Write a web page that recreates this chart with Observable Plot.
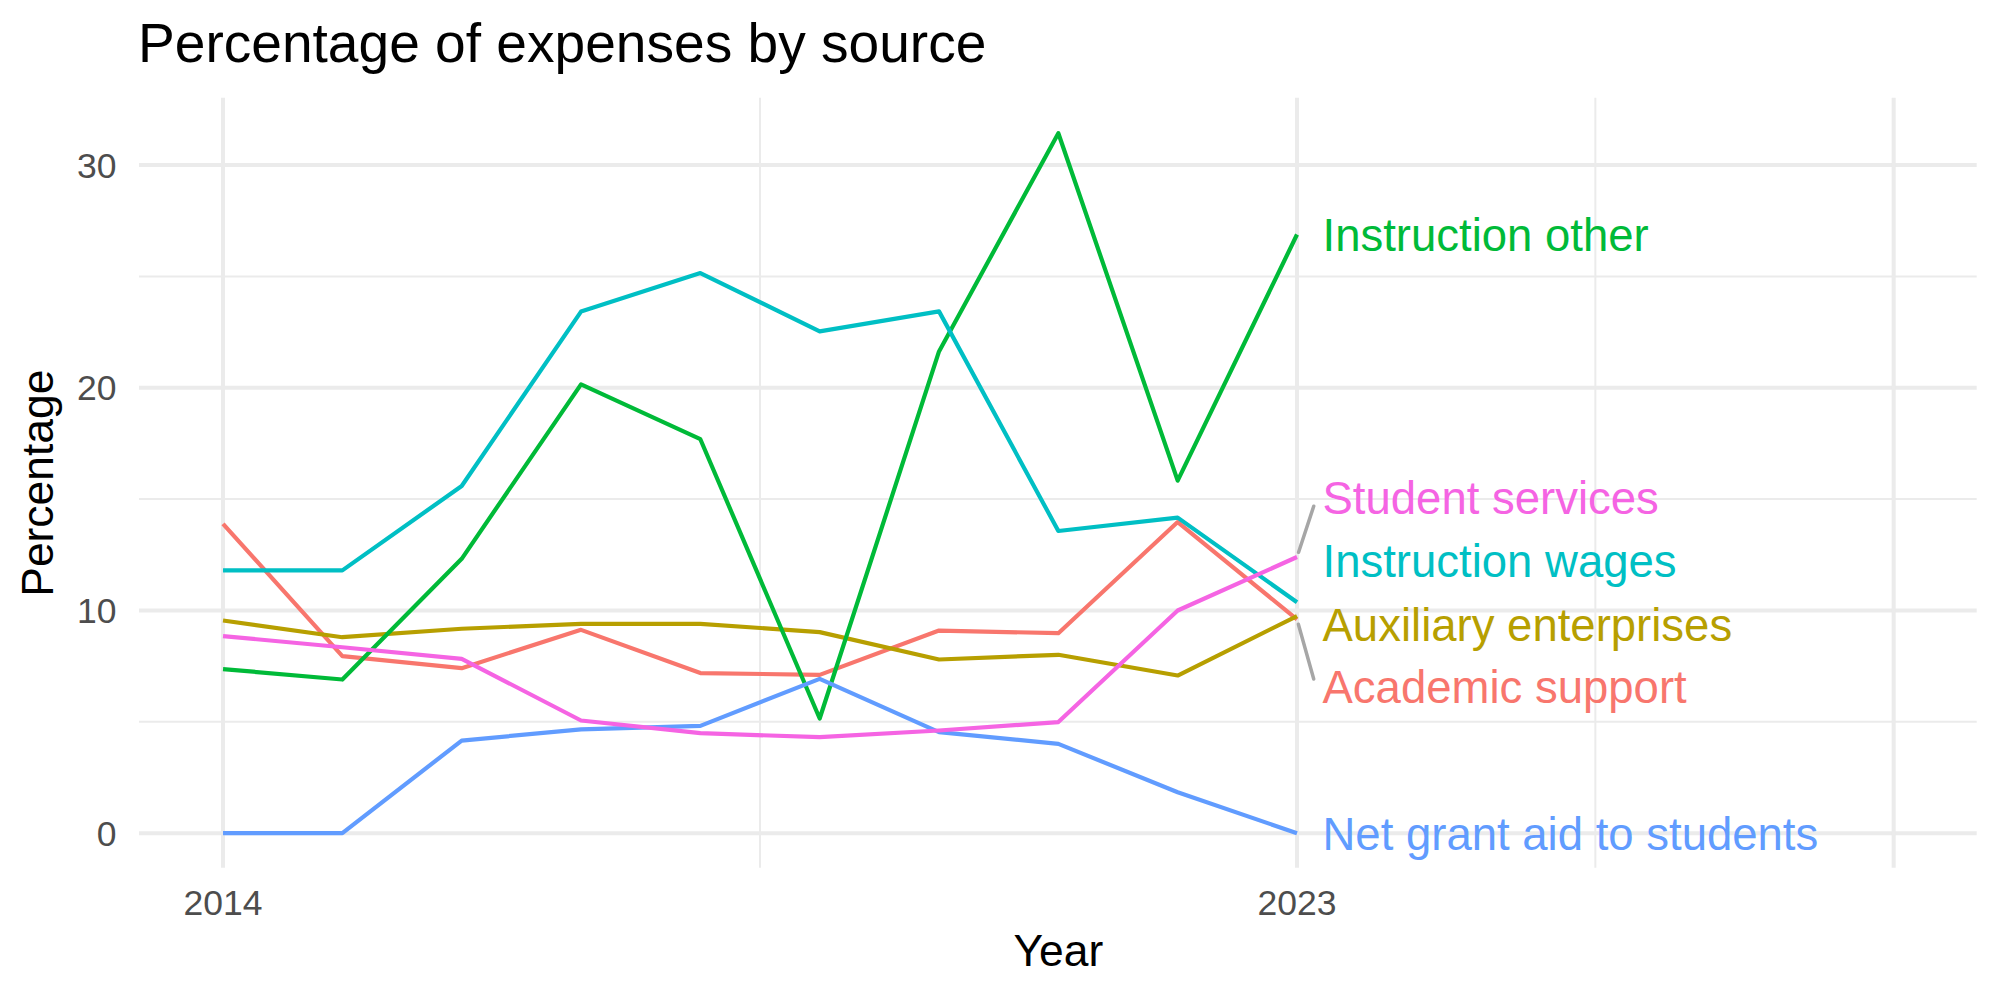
<!DOCTYPE html>
<html>
<head>
<meta charset="utf-8">
<script src="https://cdn.jsdelivr.net/npm/d3@7"></script>
<script src="https://cdn.jsdelivr.net/npm/@observablehq/plot@0.6"></script>
<style>
  body { margin: 0; background: #fff; }
  #chart { width: 2000px; }
  .title { position: relative; height: 80px; }
  .title span {
    position: absolute; left: 138px; top: 16.3px;
    font: 55.1px/1 "Liberation Sans", Arial, Helvetica, sans-serif;
    color: #000; white-space: nowrap;
  }
</style>
</head>
<body>
<div id="chart">
  <div class="title"><span>Percentage of expenses by source</span></div>
</div>
<script>
// Share of expenses by source, 2014–2023 (percent)
const years = [2014, 2015, 2016, 2017, 2018, 2019, 2020, 2021, 2022, 2023];
const academicSupport  = [13.89, 7.95, 7.41, 9.13, 7.19, 7.11, 9.10, 8.98, 13.97, 9.60];
const auxiliary        = [9.55, 8.80, 9.18, 9.40, 9.40, 9.03, 7.80, 8.01, 7.08, 9.75];
const instructionOther = [7.37, 6.90, 12.32, 20.15, 17.69, 5.15, 21.63, 31.43, 15.83, 26.88];
const instructionWages = [11.80, 11.80, 15.59, 23.42, 25.15, 22.53, 23.43, 13.57, 14.17, 10.37];
const netGrantAid      = [0, 0, 4.16, 4.66, 4.82, 6.93, 4.54, 4.01, 1.84, 0];
const studentServices  = [8.85, 8.35, 7.83, 5.06, 4.49, 4.31, 4.61, 4.99, 10.00, 12.40];

const seriesNames  = ["Academic support", "Auxiliary enterprises", "Instruction other",
                      "Instruction wages", "Net grant aid to students", "Student services"];
const seriesColors = ["#F8766D", "#B79F00", "#00BA38", "#00BFC4", "#619CFF", "#F564E3"];

// End-of-line labels, spread apart vertically so they do not overlap
const labelY = [6.56, 9.38, 26.89, 12.22, -0.04, 15.04];
const labelConnector = [true, false, false, false, false, true];

// Axis breaks
const xLimits = [2014, 2028];
const xBreaks = [2014, 2023, 2028];
const xLabelled = [2014, 2023];
const xMinorBreaks = [2018.5, 2025.5];
const yBreaks = [0, 10, 20, 30];
const yMinorBreaks = [5, 15, 25];

const seriesValues = [academicSupport, auxiliary, instructionOther, instructionWages, netGrantAid, studentServices];
const rows = seriesNames.flatMap((name, i) =>
  years.map((year, j) => ({name, year, value: seriesValues[i][j]})));
const lastIndex = years.length - 1;
const ends = seriesNames.map((name, i) => ({
  name,
  year: years[lastIndex],
  value: seriesValues[i][lastIndex],
  labelY: labelY[i],
  connector: labelConnector[i]
}));

const expand = (a, b) => [a - 0.05 * (b - a), b + 0.05 * (b - a)];
const yMax = d3.max(rows, d => d.value);
const font = '"Liberation Sans", Arial, Helvetica, sans-serif';
const grid = "#EBEBEB";
const tickGrey = "#4D4D4D";
const connectorReach = 0.14; // years from the last point to the label box edge

const chart = Plot.plot({
  width: 2000,
  height: 920,
  marginTop: 17.7,
  marginRight: 23.3,
  marginBottom: 132.3,
  marginLeft: 139,
  style: {fontFamily: font, background: "#fff", overflow: "visible"},
  x: {domain: expand(...xLimits), axis: null},
  y: {domain: expand(0, yMax), axis: null},
  color: {domain: seriesNames, range: seriesColors},
  marks: [
    Plot.ruleY(yMinorBreaks, {stroke: grid, strokeWidth: 2}),
    Plot.ruleX(xMinorBreaks, {stroke: grid, strokeWidth: 2}),
    Plot.ruleY(yBreaks, {stroke: grid, strokeWidth: 4}),
    Plot.ruleX(xBreaks, {stroke: grid, strokeWidth: 4}),
    Plot.line(rows, {
      x: "year", y: "value", z: "name", stroke: "name",
      strokeWidth: 4.2, strokeLinecap: "butt", strokeLinejoin: "round"
    }),
    Plot.arrow(ends.filter(d => d.connector), {
      x1: "year", y1: "value",
      x2: d => d.year + connectorReach,
      y2: d => d.labelY + (d.value < d.labelY ? -0.36 : 0.36),
      headLength: 0, insetStart: 5,
      stroke: "#A6A6A6", strokeWidth: 3.5
    }),
    Plot.text(ends, {
      x: "year", y: "labelY", text: "name", fill: "name",
      textAnchor: "start", lineAnchor: "middle",
      dx: 25.5, dy: 1.7, fontSize: 45.5
    }),
    // y tick labels
    Plot.text(yBreaks, {
      y: d => d, text: d => String(d), frameAnchor: "left",
      textAnchor: "end", lineAnchor: "middle",
      dx: -23, dy: 1.3, fontSize: 35.5, fill: tickGrey
    }),
    // x tick labels
    Plot.text(xLabelled, {
      x: d => d, text: d => String(d), frameAnchor: "bottom",
      textAnchor: "middle", lineAnchor: "bottom", dy: 46.9, fontSize: 35.5, fill: tickGrey
    }),
    // axis titles
    Plot.text(["Year"], {
      text: d => d, frameAnchor: "bottom", textAnchor: "middle", lineAnchor: "bottom",
      dy: 97.3, fontSize: 44.4, fill: "#000"
    }),
    Plot.text(["Percentage"], {
      text: d => d, frameAnchor: "left", rotate: -90,
      textAnchor: "middle", lineAnchor: "bottom",
      dx: -86.3, fontSize: 44.4, fill: "#000"
    })
  ]
});

document.getElementById("chart").appendChild(chart);
</script>
</body>
</html>
